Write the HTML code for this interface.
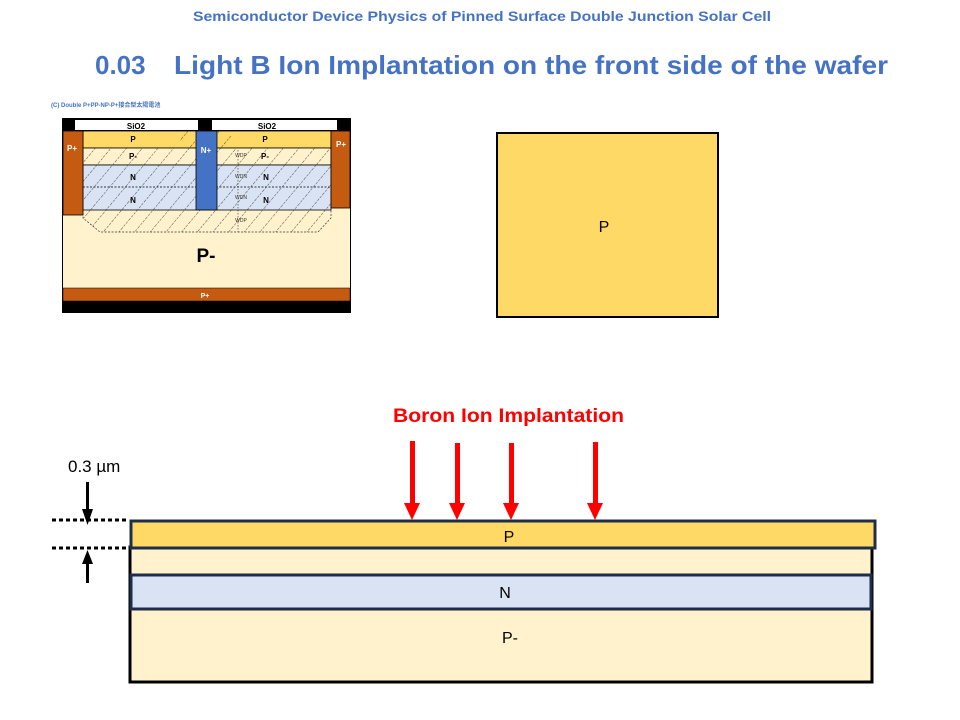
<!DOCTYPE html>
<html><head><meta charset="utf-8"><style>
html,body{margin:0;padding:0;background:#fff;width:960px;height:720px;overflow:hidden}
svg{display:block}
text{font-family:"Liberation Sans","Noto Sans CJK TC",sans-serif}
</style></head><body>
<svg width="960" height="720" viewBox="0 0 960 720" xmlns="http://www.w3.org/2000/svg">
<defs>
<pattern id="h" patternUnits="userSpaceOnUse" width="12" height="12" patternTransform="rotate(40)">
<line x1="0" y1="0" x2="0" y2="12" stroke="#222" stroke-width="0.8" stroke-dasharray="2.5,1.2"/>
</pattern>
</defs>
<text x="193" y="21" textLength="578" lengthAdjust="spacingAndGlyphs" font-size="14" font-weight="bold" fill="#4472C4">Semiconductor Device Physics of Pinned Surface Double Junction Solar Cell</text>
<text x="95" y="74" font-size="26" font-weight="bold" fill="#4472C4">0.03</text>
<text x="174" y="74" textLength="714" lengthAdjust="spacingAndGlyphs" font-size="26" font-weight="bold" fill="#4472C4">Light B Ion Implantation on the front side of the wafer</text>

<!-- small diagram -->
<text x="51" y="107" font-size="6" font-weight="bold" fill="#4472C4">(C)  Double P+PP-NP-P+接合型太陽電池</text>
<rect x="62" y="118" width="289" height="195" fill="#000"/>
<rect x="63" y="131" width="287" height="157" fill="#FFF2CC"/>
<rect x="75" y="120" width="123" height="10" fill="#fff"/>
<rect x="212" y="120" width="125" height="10" fill="#fff"/>
<text x="136" y="129" text-anchor="middle" font-size="8" font-weight="bold">SiO2</text>
<text x="267" y="129" text-anchor="middle" font-size="8" font-weight="bold">SiO2</text>
<rect x="83" y="131" width="248" height="17" fill="#FFD966" stroke="#000" stroke-width="0.8"/>
<rect x="83" y="148" width="248" height="17" fill="#FFF2CC" stroke="#000" stroke-width="0.8"/>
<rect x="83" y="165" width="248" height="45" fill="#DAE3F3" stroke="#000" stroke-width="0.8"/>
<line x1="83" y1="187" x2="331" y2="187" stroke="#000" stroke-width="0.7" stroke-dasharray="2,1.5"/>
<rect x="83" y="148" width="248" height="62" fill="url(#h)"/>
<polygon points="83,210 331,210 331,218 318,232 100,232 83,218" fill="url(#h)" stroke="#333" stroke-width="0.7" stroke-dasharray="2,1.5"/>
<rect x="180" y="131" width="16" height="17" fill="url(#h)"/>
<rect x="217" y="131" width="14" height="17" fill="url(#h)"/>
<rect x="63" y="131" width="20" height="84" fill="#C55A11" stroke="#000" stroke-width="0.8"/>
<rect x="331" y="131" width="19" height="77" fill="#C55A11" stroke="#000" stroke-width="0.8"/>
<rect x="196" y="131" width="21" height="79" fill="#4472C4" stroke="#000" stroke-width="0.8"/>
<rect x="63" y="288" width="287" height="13" fill="#C55A11" stroke="#000" stroke-width="0.5"/>
<g font-size="8" font-weight="bold">
<text x="133" y="142" text-anchor="middle">P</text>
<text x="265" y="142" text-anchor="middle">P</text>
<text x="133" y="159" text-anchor="middle">P-</text>
<text x="265" y="159" text-anchor="middle">P-</text>
<text x="133" y="180" text-anchor="middle">N</text>
<text x="266" y="180" text-anchor="middle">N</text>
<text x="133" y="203" text-anchor="middle">N</text>
<text x="266" y="203" text-anchor="middle">N</text>
<text x="72" y="151" text-anchor="middle" fill="#fff">P+</text>
<text x="341" y="147" text-anchor="middle" fill="#fff">P+</text>
<text x="206" y="153" text-anchor="middle" fill="#fff">N+</text>
<text x="205" y="298" text-anchor="middle" fill="#fff" font-size="7">P+</text>
</g>
<g font-size="5" fill="#333" text-anchor="middle">
<text x="241" y="157">WDP</text><text x="241" y="178">WDN</text><text x="241" y="199">WDN</text><text x="241" y="222">WDP</text>
</g>
<line x1="238" y1="150" x2="238" y2="232" stroke="#333" stroke-width="0.6" stroke-dasharray="1.5,1.5"/>
<text x="206" y="262" text-anchor="middle" font-size="19" font-weight="bold">P-</text>

<!-- right P box -->
<rect x="497" y="133" width="221" height="184" fill="#FFD966" stroke="#000" stroke-width="2"/>
<text x="604" y="232" text-anchor="middle" font-size="16">P</text>

<!-- bottom wafer -->
<text x="393" y="422" textLength="231" lengthAdjust="spacingAndGlyphs" font-size="19" font-weight="bold" fill="#FF0000">Boron Ion Implantation</text>
<rect x="130" y="547" width="742" height="135" fill="#FFF2CC" stroke="#000" stroke-width="3"/>
<rect x="131" y="575" width="740" height="34" fill="#DAE3F3" stroke="#1F2D4A" stroke-width="3"/>
<rect x="131" y="521" width="744" height="27" fill="#FFD966" stroke="#1F2D4A" stroke-width="3"/>
<text x="509" y="542" text-anchor="middle" font-size="16">P</text>
<text x="505" y="598" text-anchor="middle" font-size="16">N</text>
<text x="510" y="643" text-anchor="middle" font-size="16">P-</text>

<g fill="#FF0000">
<rect x="410" y="441" width="5" height="63"/><polygon points="404,503 420,503 412,520"/>
<rect x="455" y="443" width="5" height="61"/><polygon points="449,503 465,503 457,520"/>
<rect x="509" y="443" width="5" height="61"/><polygon points="503,503 519,503 511,520"/>
<rect x="593" y="442" width="5" height="62"/><polygon points="587,503 603,503 595,520"/>
</g>

<text x="68" y="472" font-size="17">0.3 µm</text>
<line x1="52" y1="520" x2="128" y2="520" stroke="#000" stroke-width="3" stroke-dasharray="4,3"/>
<line x1="52" y1="548" x2="128" y2="548" stroke="#000" stroke-width="3" stroke-dasharray="4,3"/>
<rect x="86" y="482" width="3" height="28"/>
<polygon points="82,509 93,509 87.5,525"/>
<rect x="86" y="563" width="3" height="20"/>
<polygon points="82,564 93,564 87.5,550"/>
</svg>
</body></html>
